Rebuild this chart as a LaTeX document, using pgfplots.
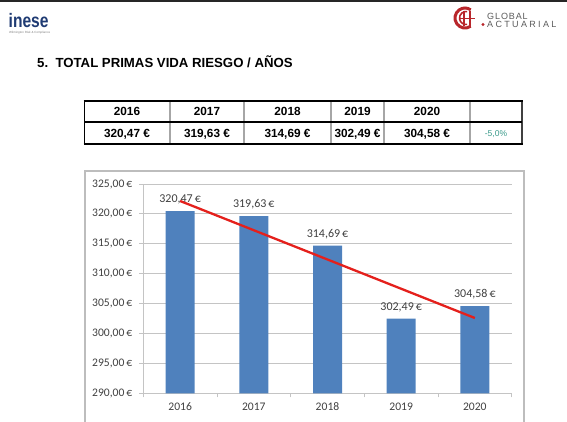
\documentclass[border=0pt]{standalone}
\usepackage{fontspec}
\setmainfont{Liberation Sans}
\newfontfamily\calibri{Carlito}
\usepackage{graphicx}
\usepackage{pgfplots}
\pgfplotsset{compat=1.18}

\definecolor{barblue}{HTML}{4F81BD}
\definecolor{trendred}{HTML}{E4201C}
\definecolor{inesenavy}{HTML}{1F3B73}
\definecolor{logored}{HTML}{B8262B}
\definecolor{logogray}{HTML}{5A5A5A}
\definecolor{pctgreen}{HTML}{3A9A8A}
\definecolor{labelgray}{HTML}{404040}
\definecolor{gridgray}{HTML}{C4C4C4}
\definecolor{framegray}{HTML}{BDBDBD}

\begin{document}
\begin{tikzpicture}
\path[use as bounding box] (0,0) rectangle (567pt,-422pt);

\begin{scope}[x=1pt,y=-1pt]
  % header rule
  \fill[black!85] (0,0) rectangle (567,2);

  % inese logo
  \node[anchor=base west, inner sep=0, text=inesenavy,
        font=\bfseries\fontsize{19.5}{19.5}\selectfont] at (8.5,28) {\scalebox{0.8}[1]{inese}};
  \node[anchor=base west, inner sep=0, text=gray,
        font=\fontsize{3}{3}\selectfont] at (9,34) {Wilmington Risk \& Compliance};

  % Global Actuarial logo
  \draw[logored, line width=3] (465,18) ++(55:10) arc[start angle=55, end angle=305, radius=10];
  \draw[logored, line width=1.6] (466,18) ++(80:6.5) arc[start angle=80, end angle=280, radius=6.5];
  \draw[logored, line width=1.8] (464,11) -- (464,26) (470,11) -- (470,26) (460,18.5) -- (475,18.5);
  \fill[logored] (483,24.5) circle (1.7);
  \node[anchor=base west, inner sep=0, text=logogray,
        font=\fontsize{9}{9}\selectfont\addfontfeatures{LetterSpace=10}] at (487,19.8) {GLOBAL};
  \node[anchor=base west, inner sep=0, text=logogray,
        font=\fontsize{9}{9}\selectfont\addfontfeatures{LetterSpace=26}] at (487,27.5) {ACTUARIAL};

  % section title
  \node[anchor=base west, inner sep=0,
        font=\bfseries\fontsize{13.2}{13.2}\selectfont] at (37,67.5) {5.\ \ TOTAL PRIMAS VIDA RIESGO / AÑOS};

  % summary table
  \foreach \xx in {170,244,331,384,470}
    \draw[black!35, line width=1.6] (\xx,101) -- (\xx,144);
  \draw[black, line width=0.8] (84,101) -- (84,144);
  \draw[black!75, line width=1.6] (522,101) -- (522,144);
  \draw[black, line width=2] (83.6,101) -- (522.8,101);
  \draw[black, line width=1.4] (84,122) -- (522,122);
  \draw[black, line width=2] (83.6,144) -- (522.8,144);
  \foreach \cx/\yr/\val in {127/2016/320{,}47,207/2017/319{,}63,287.5/2018/314{,}69,
                            357.5/2019/302{,}49,427/2020/304{,}58} {
    \node[anchor=base, inner sep=0, font=\bfseries\fontsize{11.8}{12}\selectfont] at (\cx,115.8) {\yr};
    \node[anchor=base, inner sep=0, font=\bfseries\fontsize{11.8}{12}\selectfont] at (\cx,137.3) {\val\ €};
  }
  \node[anchor=base, inner sep=0, text=pctgreen, font=\fontsize{8.5}{9}\selectfont] at (496,136.5) {-5,0\%};

  % chart area frame
  \draw[framegray, line width=1.3] (85,424) -- (85,171) -- (524,171) -- (524,424);
\end{scope}

\begin{axis}[
  at={(143.3pt,-393.3pt)}, anchor=south west,
  scale only axis, width=368.4pt, height=209.3pt,
  xmin=-0.5, xmax=4.5, ymin=290, ymax=325,
  ytick={290,295,...,325},
  xtick={0,1,2,3,4},
  xticklabels={2016,2017,2018,2019,2020},
  minor xtick={-0.5,0.5,1.5,2.5,3.5,4.5},
  axis x line*=bottom, axis y line*=left,
  x axis line style={-, draw=gridgray, line width=0.9pt},
  y axis line style={-, draw=gridgray, line width=0.9pt},
  ymajorgrids, grid style={draw=gridgray, line width=0.9pt},
  tick align=outside,
  major tick length=4pt, minor tick length=4pt,
  every major x tick/.append style={draw=none},
  every minor x tick/.append style={draw=gridgray, line width=0.9pt},
  every major y tick/.append style={draw=gridgray, line width=0.9pt},
  /pgf/number format/assume math mode=true,
  tick label style={font=\calibri\fontsize{11.6}{12}\selectfont, text=labelgray},
  xticklabel style={text height=7.3pt, text depth=0pt, yshift=-2pt},
  yticklabel style={xshift=-3.5pt},
  yticklabel={\pgfmathprintnumber[fixed,fixed zerofill,precision=2,use comma]{\tick}\,€},
  clip=false,
]
\addplot[ybar, bar width=29pt, fill=barblue, draw=none,
  nodes near coords={\pgfmathprintnumber[fixed,fixed zerofill,precision=2,use comma]{\pgfplotspointmeta}\,€},
  every node near coord/.append style={anchor=base, inner sep=0pt, yshift=8.5pt,
     font=\calibri\fontsize{12}{12}\selectfont, text=labelgray}]
  coordinates {(0,320.47) (1,319.63) (2,314.69) (3,302.49) (4,304.58)};
% linear trend through the five yearly totals
\addplot[trendred, line width=2.3pt] coordinates {(0,322.16) (4,302.59)};
\end{axis}
\end{tikzpicture}
\end{document}
